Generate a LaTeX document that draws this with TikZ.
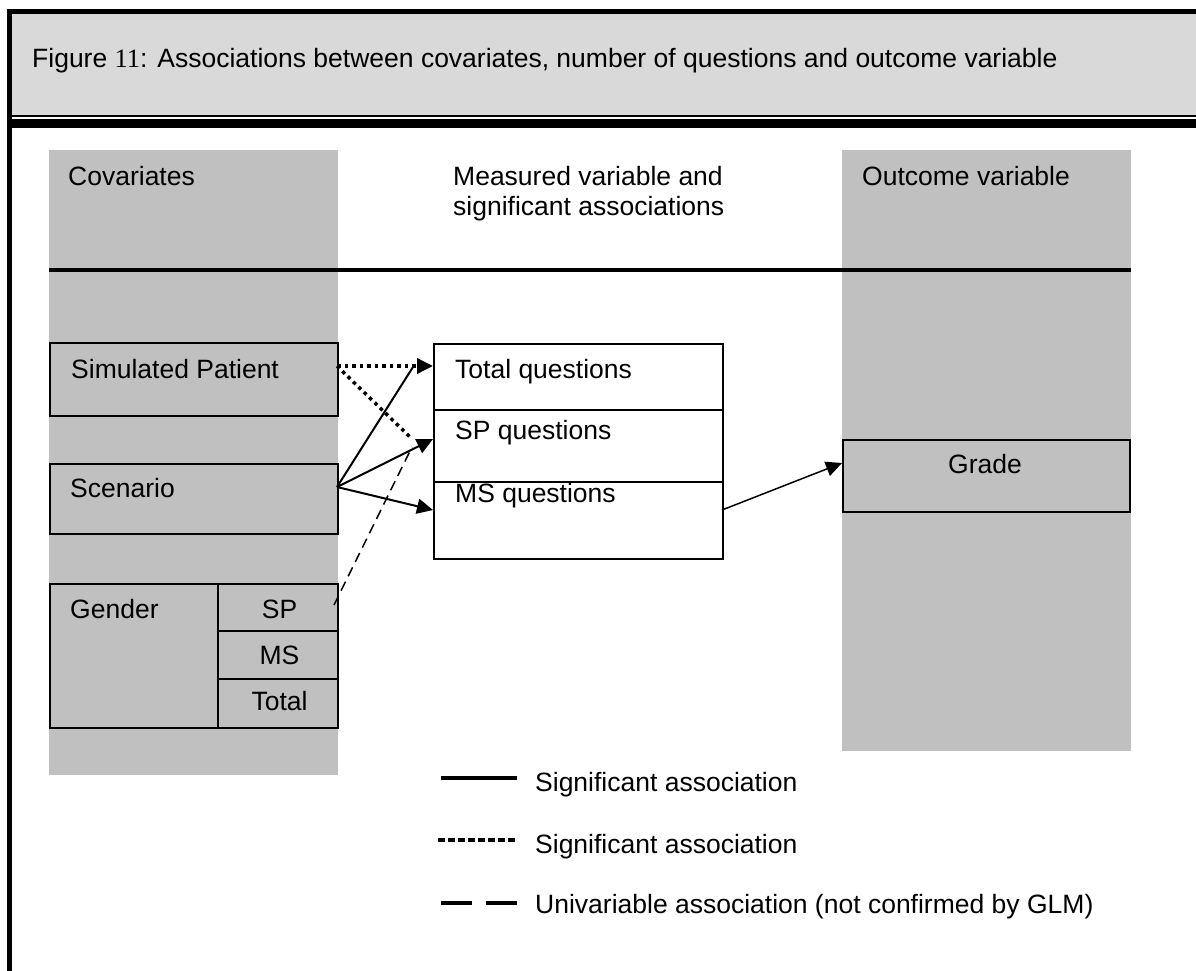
\documentclass[tikz,border=0pt]{standalone}
\usepackage{fontspec}
\setmainfont{Liberation Sans}
\newfontfamily\serifnum{Liberation Serif}
\usetikzlibrary{arrows.meta,calc}
\definecolor{hdrgrey}{HTML}{D9D9D9}
\definecolor{colgrey}{HTML}{C0C0C0}
\tikzset{
  txt/.style={inner sep=0pt, anchor=base west, font=\fontsize{26.5}{30}\selectfont},
  ctxt/.style={inner sep=0pt, anchor=base, font=\fontsize{26.5}{30}\selectfont},
  greybox/.style={draw=black, fill=colgrey, line width=1.5pt, inner sep=0pt, anchor=north west},
  whitebox/.style={draw=black, fill=white, line width=1.5pt, inner sep=0pt, anchor=north west},
  sigline/.style={line width=2pt},
  sigdot/.style={line width=3.5pt, dash pattern=on 3.5pt off 4pt},
  univar/.style={line width=1.5pt, dash pattern=on 10pt off 6pt},
  tip/.style={-{Triangle[length=16pt,width=15pt]}},
}
\begin{document}
\begin{tikzpicture}[x=1pt,y=-1pt]
\useasboundingbox (0,0) rectangle (1196,971);
% outer frame and header
\fill[black] (7,9) rectangle (1196,14);
\fill[black] (7,9) rectangle (12,971);
\fill[hdrgrey] (12,14) rectangle (1196,115);
\fill[black] (12,115) rectangle (1196,117);
\fill[black] (12,119) rectangle (1196,128);
\node[txt] (title) at (32,68) {Figure {\serifnum 11}: Associations between covariates, number of questions and outcome variable};
% columns
\fill[colgrey] (49,150) rectangle (338,775);
\fill[colgrey] (842,150) rectangle (1131,751);
\node[txt] (covh) at (68,185) {Covariates};
\node[txt] (midh1) at (453,185) {Measured variable and};
\node[txt] (midh2) at (453,215) {significant associations};
\node[txt] (outh) at (862,185) {Outcome variable};
\draw[line width=4pt] (49,270) -- (1131,270);
% covariate boxes
\node[greybox, minimum width=288pt, minimum height=73pt] (sp) at (49,342) {};
\node[txt] (sptext) at (71,378) {Simulated Patient};
\node[greybox, minimum width=288pt, minimum height=70pt] (sc) at (49,463) {};
\node[txt] (sctext) at (70,497) {Scenario};
% gender table
\node[greybox, minimum width=168pt, minimum height=144pt] (gen) at (49,583) {};
\node[txt] (gentext) at (70,618) {Gender};
\node[greybox, minimum width=120pt, minimum height=47pt] (gsp) at (217,583) {};
\node[greybox, minimum width=120pt, minimum height=48pt] (gms) at (217,630) {};
\node[greybox, minimum width=120pt, minimum height=49pt] (gtot) at (217,678) {};
\node[ctxt] (gsptext) at (279.5,618) {SP};
\node[ctxt] (gmstext) at (279.5,664) {MS};
\node[ctxt] (gtottext) at (279.5,710) {Total};
% measured variable box
\node[whitebox, minimum width=289pt, minimum height=66pt] (tq) at (433,343) {};
\node[whitebox, minimum width=289pt, minimum height=72pt] (spq) at (433,409) {};
\node[whitebox, minimum width=289pt, minimum height=77pt] (msq) at (433,481) {};
\node[txt] (tqtext) at (455,378) {Total questions};
\node[txt] (spqtext) at (455,439) {SP questions};
\node[txt] (msqtext) at (455,502) {MS questions};
% outcome
\node[greybox, minimum width=287pt, minimum height=72pt] (grade) at (842,439) {};
\node[ctxt] (gradetext) at (985,473) {Grade};
% connectors
\coordinate (spout) at (337,366);
\coordinate (scout) at (337,487);
\coordinate (genout) at (334,605);
\coordinate (dotend) at (410,437);
\coordinate (solend) at (413,367);
\coordinate (dashend) at (412,447);
\draw[sigdot, tip] (spout) -- (tq.west |- spout);
\draw[sigdot] (spout) -- (dotend);
\draw[sigline] (scout) -- (solend);
\draw[sigline, tip] (scout) -- (433,439);
\draw[sigline, tip] (scout) -- (433,510);
\draw[univar] (genout) -- (dashend);
\draw[line width=1.5pt, tip] (722,510) -- (grade.west |- 0,463);
% legend
\coordinate (l1a) at (441,778); \coordinate (l1b) at (517,778);
\coordinate (l2a) at (438,840); \coordinate (l2b) at (518,840);
\coordinate (l3a) at (441,903); \coordinate (l3b) at (517,903);
\draw[line width=4pt] (l1a) -- (l1b);
\draw[line width=4pt, dash pattern=on 6.5pt off 3.5pt] (l2a) -- (l2b);
\draw[line width=4pt, dash pattern=on 31pt off 14pt] (l3a) -- (l3b);
\node[txt] (leg1) at (535,791) {Significant association};
\node[txt] (leg2) at (535,853) {Significant association};
\node[txt] (leg3) at (535,913) {Univariable association (not confirmed by GLM)};
\end{tikzpicture}
\end{document}
